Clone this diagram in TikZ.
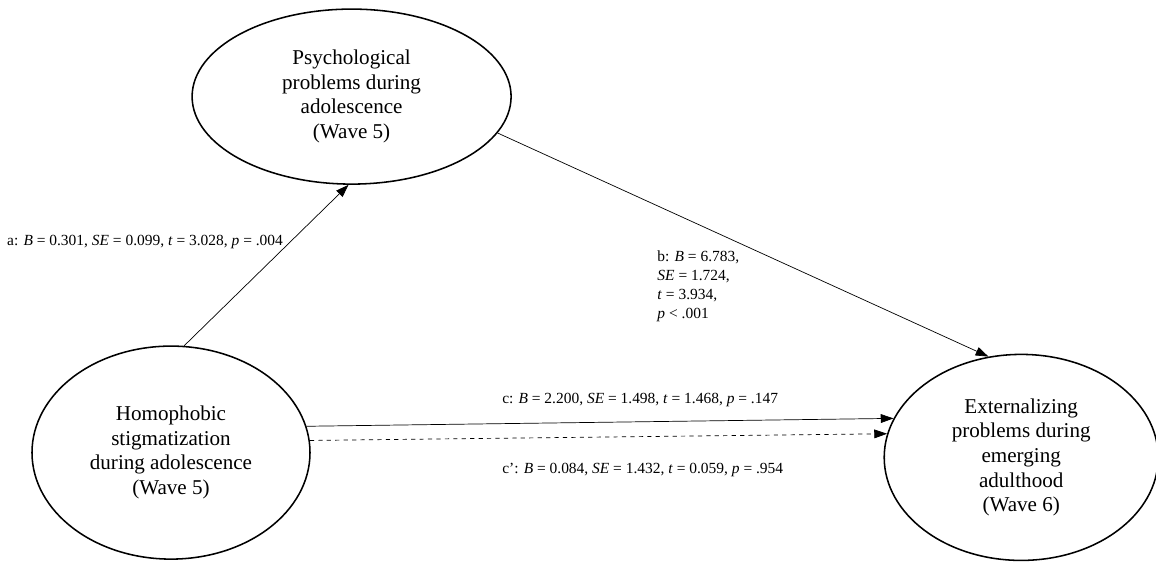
\documentclass[tikz,border=0pt]{standalone}
\usepackage{fontspec}
\setmainfont{Liberation Serif}
\usetikzlibrary{shapes.geometric, arrows.meta}

\tikzset{
  construct/.style={draw, ellipse, line width=1.1pt, inner sep=0pt, align=center,
    font=\fontsize{15}{17.5}\selectfont},
  effect/.style={-{Triangle[length=0.32cm,width=0.22cm]}, line width=0.5pt},
  est/.style={inner sep=0pt, font=\fontsize{11}{13.5}\selectfont}
}

\begin{document}
\begin{tikzpicture}

\useasboundingbox (0,0) rectangle (28.9,14.075);

% the three constructs
\node[construct, minimum width=7.975cm, minimum height=4.375cm] (psy) at (8.79,11.66)
  {Psychological\\problems during\\adolescence\\(Wave 5)};
\node[construct, minimum width=6.95cm, minimum height=5.325cm] (homo) at (4.275,2.76)
  {Homophobic\\stigmatization\\during adolescence\\(Wave 5)};
\node[construct, minimum width=6.85cm, minimum height=5.15cm] (ext) at (25.53,2.64)
  {Externalizing\\problems during\\emerging\\adulthood\\(Wave 6)};

% paths
\draw[effect] (homo.83) -- (psy.268);
\draw[effect] (psy.-14) -- (ext.108);
\draw[effect] (homo.11) -- (ext.163);
\draw[effect, dashed] (homo.5) -- (ext.170);

% estimates
\node[est, anchor=east] (alab) at (7.08,8.03)
  {a: \textit{B} = 0.301, \textit{SE} = 0.099, \textit{t} = 3.028, \textit{p} = .004};
\node[est, anchor=west, align=left] (blab) at (16.43,6.91)
  {b: \textit{B} = 6.783,\\\textit{SE} = 1.724,\\\textit{t} = 3.934,\\\textit{p} < .001};
\node[est, anchor=west] (clab) at (12.55,4.075)
  {c: \textit{B} = 2.200, \textit{SE} = 1.498, \textit{t} = 1.468, \textit{p} = .147};
\node[est, anchor=west] (cplab) at (12.55,2.325)
  {c': \textit{B} = 0.084, \textit{SE} = 1.432, \textit{t} = 0.059, \textit{p} = .954};

\end{tikzpicture}
\end{document}
